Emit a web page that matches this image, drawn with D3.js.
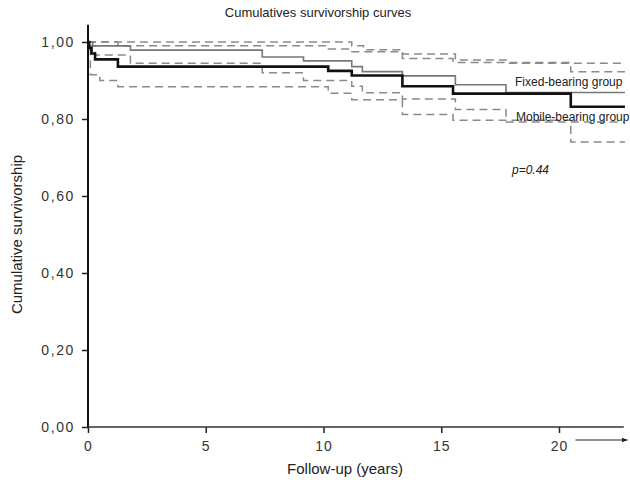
<!DOCTYPE html>
<html>
<head>
<meta charset="utf-8">
<script src="https://cdn.jsdelivr.net/npm/d3@7"></script>
<style>
  body { margin: 0; background: #fff; }
  text { font-family: "Liberation Sans", Arial, sans-serif; fill: #222; }
</style>
</head>
<body>
<div id="chart"></div>
<script>

// step points [years, survival], last point is the end of follow-up
var fixedCurve = [[0, 1.0], [0.2, 0.99], [1.8, 0.979], [7.4, 0.961], [9.15, 0.951], [11.2, 0.936],
    [11.65, 0.923], [13.35, 0.912], [15.6, 0.889], [17.75, 0.869], [22.8, 0.869]];
var mobileCurve = [[0, 1.0], [0.05, 0.985], [0.15, 0.97], [0.3, 0.955], [1.27, 0.936], [10.2, 0.925],
    [11.2, 0.913], [13.35, 0.885], [15.5, 0.866], [20.5, 0.832], [22.8, 0.832]];

// 95% bands (dashed)
var fixedUpper = [[0, 1.0], [11.2, 0.99], [11.7, 0.98], [13.35, 0.969], [15.6, 0.953], [17.75, 0.945], [22.8, 0.945]];
var mobileUpper = [[0, 1.0], [1.27, 0.99], [10.2, 0.982], [11.2, 0.975], [13.35, 0.957], [15.5, 0.947], [20.5, 0.923], [22.8, 0.923]];
var fixedLower = [[0, 0.99], [0.3, 0.966], [1.8, 0.945], [7.4, 0.92], [9.15, 0.9], [11.2, 0.885], [11.65, 0.868],
    [13.35, 0.852], [15.6, 0.825], [17.75, 0.792], [22.8, 0.792]];
var mobileLower = [[0, 0.98], [0.1, 0.915], [0.5, 0.9], [1.27, 0.884], [10.2, 0.867], [11.2, 0.85], [13.35, 0.812],
    [15.5, 0.797], [20.5, 0.74], [22.8, 0.74]];

var xTicks = [0, 5, 10, 15, 20];
var yTicks = [0, 0.2, 0.4, 0.6, 0.8, 1.0];

var width = 630, height = 480;

var svg = d3.select("#chart").append("svg")
    .attr("width", width)
    .attr("height", height);

var xScale = d3.scaleLinear().domain([0, 20]).range([88, 559]);
var yScale = d3.scaleLinear().domain([0, 1]).range([427, 42]);

var stepLine = d3.line()
    .x(d => xScale(d[0]))
    .y(d => yScale(d[1]))
    .curve(d3.curveStepAfter);

// bands first so the curves sit on top
[fixedUpper, mobileUpper, fixedLower, mobileLower].forEach(function (band) {
    svg.append("path")
        .attr("d", stepLine(band))
        .style("fill", "none")
        .style("stroke", "#8a8a8a")
        .style("stroke-width", 1.5)
        .style("stroke-dasharray", "8,5");
});

svg.append("path")
    .attr("d", stepLine(fixedCurve))
    .style("fill", "none")
    .style("stroke", "#777")
    .style("stroke-width", 1.6);

svg.append("path")
    .attr("d", stepLine(mobileCurve))
    .style("fill", "none")
    .style("stroke", "#111")
    .style("stroke-width", 2.6);

// axes
var yAxis = svg.append("g")
    .attr("transform", "translate(" + xScale(0) + ",0)")
    .call(d3.axisLeft(yScale).tickValues(yTicks).tickSize(6).tickPadding(7)
        .tickFormat(d => d.toFixed(2).replace(".", ",")));
yAxis.select(".domain").remove();
yAxis.selectAll("text").style("font-size", "14px").style("letter-spacing", "1.6px").style("fill", "#333");

var xAxis = svg.append("g")
    .attr("transform", "translate(0," + yScale(0) + ")")
    .call(d3.axisBottom(xScale).tickValues(xTicks).tickSize(6).tickPadding(8));
xAxis.select(".domain").remove();
xAxis.selectAll("text").style("font-size", "14px").style("letter-spacing", "1px").style("fill", "#333");
svg.selectAll(".tick line").style("stroke", "#222").style("stroke-width", 1.5);

svg.append("line")
    .attr("x1", xScale(0)).attr("x2", xScale(0))
    .attr("y1", yScale(1.045)).attr("y2", yScale(0))
    .style("stroke", "#111").style("stroke-width", 2);
svg.append("line")
    .attr("x1", xScale(0)).attr("x2", xScale(22.75))
    .attr("y1", yScale(0)).attr("y2", yScale(0))
    .style("stroke", "#333").style("stroke-width", 1.5);

// little arrow after 20
svg.append("defs").append("marker")
    .attr("id", "arrow").attr("viewBox", "0 0 10 10")
    .attr("refX", 9).attr("refY", 5)
    .attr("markerWidth", 6).attr("markerHeight", 6)
    .attr("orient", "auto")
    .append("path").attr("d", "M0,1 L10,5 L0,9 Z").style("fill", "#222");
svg.append("line")
    .attr("x1", xScale(20.7)).attr("x2", xScale(22.9))
    .attr("y1", yScale(0) + 13).attr("y2", yScale(0) + 13)
    .style("stroke", "#222").style("stroke-width", 1)
    .attr("marker-end", "url(#arrow)");

// texts
svg.append("text").attr("x", 318).attr("y", 17)
    .attr("text-anchor", "middle").style("font-size", "13px")
    .text("Cumulatives survivorship curves");

svg.append("text").attr("x", 345).attr("y", 474)
    .attr("text-anchor", "middle").style("font-size", "15px")
    .text("Follow-up (years)");

svg.append("text")
    .attr("transform", "translate(22," + yScale(0.5) + ") rotate(-90)")
    .attr("text-anchor", "middle").style("font-size", "15px")
    .text("Cumulative survivorship");

svg.append("text").attr("x", 515).attr("y", 86)
    .style("font-size", "12px").text("Fixed-bearing group");
svg.append("text").attr("x", 516).attr("y", 121)
    .style("font-size", "12px").text("Mobile-bearing group");
svg.append("text").attr("x", 512).attr("y", 174)
    .style("font-size", "12px").style("font-style", "italic").text("p=0.44");

</script>
</body>
</html>
